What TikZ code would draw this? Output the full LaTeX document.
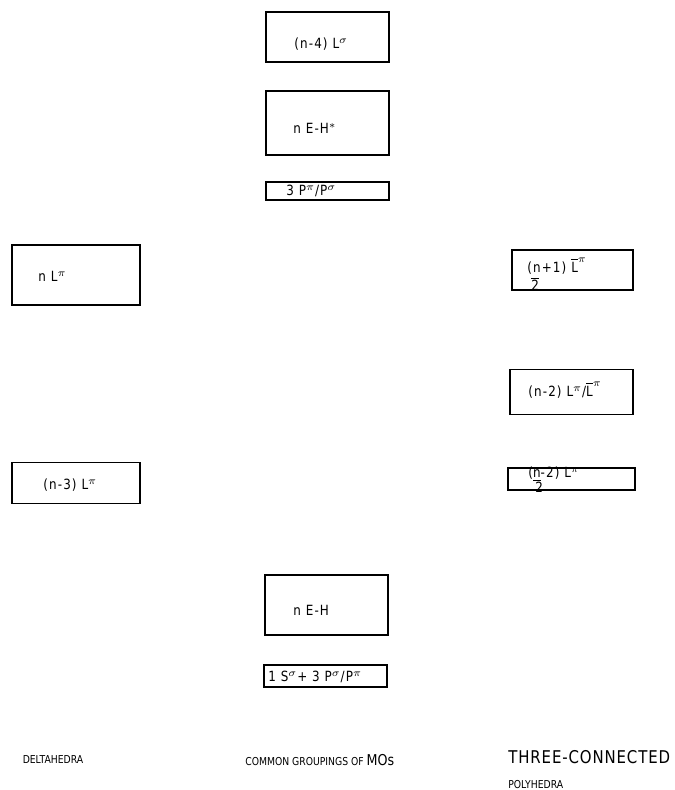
\documentclass[tikz,border=0pt]{standalone}
\usepackage{fontspec}
\setmainfont{DejaVu Sans}[FakeStretch=0.85]
\newfontfamily\boxfont{DejaVu Sans}[FakeStretch=0.85, LetterSpace=8]
\newfontfamily\wideheadfont{DejaVu Sans}[FakeStretch=0.85, LetterSpace=5]
\usepackage{tikz}
\usetikzlibrary{positioning}

\begin{document}
\begin{tikzpicture}[
	x=0.02cm, y=-0.02cm,
	box/.style={draw, line width=0.9pt, inner sep=0, minimum width=2.46cm},
	lbl/.style={inner sep=0, anchor=west, font=\boxfont\fontsize{8}{9}\selectfont},
	head/.style={inner sep=0, font=\fontsize{6.2}{7}\selectfont}
]
	\useasboundingbox (0,0) rectangle (675,790);

	% common groupings (middle column)
	\draw
		(327.5,37) node[box, minimum height=1cm](Ls){}
		(327.5,123) node[box, minimum height=1.28cm](EHs){}
		(327.5,191) node[box, minimum height=0.36cm](Pp){}
		(326.5,605) node[box, minimum height=1.2cm](EH){}
		(325.5,676) node[box, minimum height=0.44cm](Ss){}
	;
	\path
		(294,44) node[lbl](Ls text){(n-4) L$^\sigma$}
		(293,128) node[lbl](EHs text){n E-H$^*$}
		(286,191) node[lbl](Pp text){3 P$^\pi$/P$^\sigma$}
		(293,610) node[lbl](EH text){n E-H}
		(268,677) node[lbl](Ss text){1 S$^\sigma$+ 3 P$^\sigma$/P$^\pi$}
	;

	% deltahedra (left column)
	\draw
		(76,275) node[box, minimum width=2.56cm, minimum height=1.2cm](Lp){}
		(76,483) node[box, minimum width=2.56cm, minimum height=0.82cm](Lpn){}
	;
	\path
		(38,276) node[lbl](Lp text){n L$^\pi$}
		(43,485) node[lbl](Lpn text){(n-3) L$^\pi$}
	;

	% three-connected polyhedra (right column)
	\draw
		(572.5,270) node[box, minimum width=2.42cm, minimum height=0.8cm](Lb){}
		(571.5,392) node[box, minimum width=2.46cm, minimum height=0.9cm](LpLb){}
		(571.5,479) node[box, minimum width=2.54cm, minimum height=0.44cm](Lh){}
	;
	\path
		(527,266) node[lbl](Lb text){(n+1) $\overline{\mbox{L}}^\pi$}
		(531,284) node[lbl](Lb half){$\overline{\mbox{2}}$}
		(528,390) node[lbl](LpLb text){(n-2) L$^\pi$/$\overline{\mbox{L}}^\pi$}
		(528,474) node[lbl](Lh text){(\underline{n}-2) L$^\pi$}
		(535,487) node[lbl](Lh half){2}
	;

	% column headings
	\path
		(53,760) node[head](delta){DELTAHEDRA}
		(245,760) node[head, anchor=west](common){COMMON GROUPINGS OF {\fontsize{8.5}{9}\selectfont MOs}}
		(508,757) node[head, anchor=west, font=\wideheadfont\fontsize{10}{11}\selectfont](three){THREE-CONNECTED}
		(508,785) node[head, anchor=west](poly){POLYHEDRA}
	;
\end{tikzpicture}
\end{document}
